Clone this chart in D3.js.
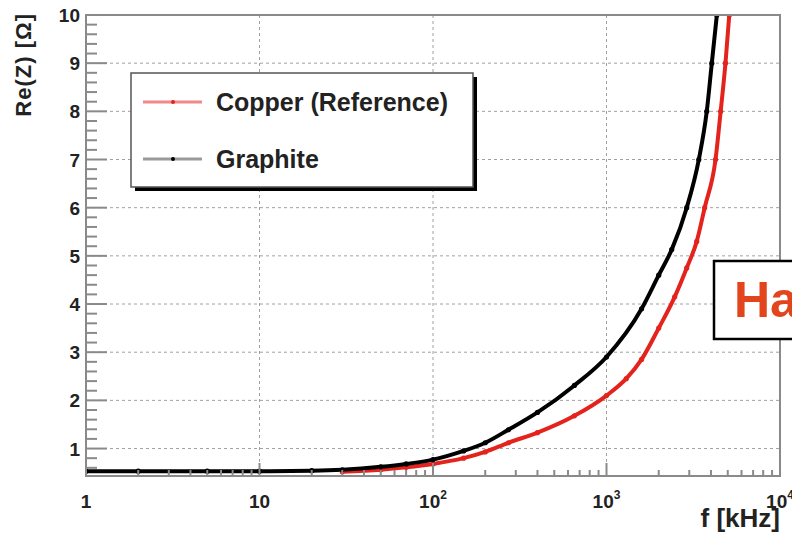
<!DOCTYPE html>
<html><head><meta charset="utf-8">
<script src="https://cdn.jsdelivr.net/npm/d3@7"></script>
<style>
body{margin:0;background:#fff;}
text{font-family:"Liberation Sans",Arial,Helvetica,sans-serif;font-weight:bold;}
</style></head>
<body><svg id="c" width="792" height="534"></svg>
<script>
// ---- data ----
const seriesNames = ["Copper (Reference)", "Graphite"];
const graphiteF = [1, 2, 5, 10, 20, 30, 50, 70, 100, 150, 200, 272, 400, 653, 1000, 1593, 2000, 2376, 2900, 3404, 3784, 4045, 4325];
const graphiteR = [0.53, 0.53, 0.53, 0.53, 0.54, 0.56, 0.62, 0.68, 0.77, 0.95, 1.12, 1.39, 1.75, 2.31, 2.9, 3.9, 4.6, 5.13, 6, 7, 8, 9, 10];
const copperF = [30, 50, 70, 100, 150, 200, 272, 400, 653, 1000, 1300, 1593, 2000, 2472, 2900, 3312, 3680, 4250, 4550, 4850, 5100];
const copperR = [0.52, 0.56, 0.61, 0.68, 0.8, 0.93, 1.12, 1.33, 1.68, 2.1, 2.45, 2.85, 3.5, 4.15, 4.75, 5.3, 6, 7, 8, 9, 10];
const xTickLabels = ["1", "10", "10^2", "10^3", "10^4"];
const xTickValues = [1, 10, 100, 1000, 10000];
const yTickValues = [1, 2, 3, 4, 5, 6, 7, 8, 9, 10];
const xTitle = "f [kHz]";
const yTitle = "Re(Z) [Ω]";
const badgeText = "Ha";

// ---- layout ----
const svg = d3.select("#c");
const L = 86, R = 780, T = 15, B = 476;
const x = d3.scaleLog().domain([1, 10000]).range([L, R]);
const y = d3.scaleLinear().domain([0.43, 10]).range([B, T]);
const red = "#e3231c";

// grid
const grid = svg.append("g");
grid.selectAll("line.gx").data(xTickValues.slice(1, -1)).join("line")
  .attr("x1", d => x(d)).attr("x2", d => x(d)).attr("y1", T).attr("y2", B)
  .attr("stroke", "#a0a0a0").attr("stroke-width", 1).attr("stroke-dasharray", "3,3");
grid.selectAll("line.gy").data(yTickValues.slice(0, -1)).join("line")
  .attr("x1", L).attr("x2", R).attr("y1", d => y(d)).attr("y2", d => y(d))
  .attr("stroke", "#a0a0a0").attr("stroke-width", 1).attr("stroke-dasharray", "3,3");

// curves
svg.append("clipPath").attr("id", "pc").append("rect")
  .attr("x", L).attr("y", T).attr("width", R - L).attr("height", B - T);
const plot = svg.append("g").attr("clip-path", "url(#pc)");
const line = d3.line().x(d => x(d[0])).y(d => y(d[1])).curve(d3.curveMonotoneX);
const cu = copperF.map((f, i) => [f, copperR[i]]);
const gr = graphiteF.map((f, i) => [f, graphiteR[i]]);
plot.append("path").datum(cu).attr("d", line).attr("fill", "none").attr("stroke", red).attr("stroke-width", 4);
plot.append("path").datum(gr).attr("d", line).attr("fill", "none").attr("stroke", "#000").attr("stroke-width", 4);
plot.selectAll("circle.cu").data(cu).join("circle").attr("cx", d => x(d[0])).attr("cy", d => y(d[1])).attr("r", 2.6).attr("fill", red);
plot.selectAll("circle.gr").data(gr).join("circle").attr("cx", d => x(d[0])).attr("cy", d => y(d[1])).attr("r", 2.6).attr("fill", "#000");

// frame
svg.append("rect").attr("x", L).attr("y", T).attr("width", R - L).attr("height", B - T)
  .attr("fill", "none").attr("stroke", "#8a8a8a").attr("stroke-width", 2);

// y ticks (inward)
const yMinor = d3.range(0.6, 10.0001, 0.2).map(v => +v.toFixed(1));
svg.append("g").selectAll("line").data(yMinor).join("line")
  .attr("x1", L).attr("x2", d => L + (Math.abs(d - Math.round(d)) < 1e-6 ? 21 : 11))
  .attr("y1", d => y(d)).attr("y2", d => y(d)).attr("stroke", "#8a8a8a").attr("stroke-width", 2);
svg.append("g").selectAll("text").data(yTickValues).join("text")
  .attr("x", 80).attr("y", d => y(d) + 7).attr("text-anchor", "end")
  .attr("font-size", 19).attr("fill", "#222").text(d => d);

// x ticks (inward)
const xMinor = [];
for (let e = 0; e < 4; e++) for (let k = 2; k <= 9; k++) xMinor.push(k * Math.pow(10, e));
svg.append("g").selectAll("line").data(xMinor).join("line")
  .attr("x1", d => x(d)).attr("x2", d => x(d)).attr("y1", B).attr("y2", B - 6)
  .attr("stroke", "#8a8a8a").attr("stroke-width", 2);
svg.append("g").selectAll("line").data(xTickValues).join("line")
  .attr("x1", d => x(d)).attr("x2", d => x(d)).attr("y1", B).attr("y2", B - 13)
  .attr("stroke", "#8a8a8a").attr("stroke-width", 2);
const xl = svg.append("g").selectAll("text").data(xTickValues).join("text")
  .attr("x", d => x(d)).attr("y", 508).attr("text-anchor", "middle")
  .attr("font-size", 19).attr("fill", "#222");
xl.each(function(d, i) {
  const s = xTickLabels[i].split("^");
  const t = d3.select(this);
  t.append("tspan").text(s[0]);
  if (s[1]) t.append("tspan").attr("dy", -9).attr("font-size", 12).text(s[1]);
});

// titles
svg.append("text").attr("x", 780).attr("y", 527).attr("text-anchor", "end")
  .attr("font-size", 26).attr("fill", "#222").text(xTitle);
svg.append("text").attr("transform", "translate(31,13) rotate(-90)").attr("text-anchor", "end")
  .attr("font-size", 22).attr("letter-spacing", 1).attr("fill", "#222").text(yTitle);

// legend
const lg = svg.append("g");
lg.append("rect").attr("x", 135).attr("y", 77).attr("width", 342).attr("height", 114).attr("fill", "#000");
lg.append("rect").attr("x", 131).attr("y", 73).attr("width", 342).attr("height", 114)
  .attr("fill", "#fff").attr("stroke", "#555").attr("stroke-width", 1.5);
const items = [[seriesNames[0], "#f08a8a", red, 102], [seriesNames[1], "#9a9a9a", "#000", 159]];
items.forEach(([name, lc, mc, yy]) => {
  lg.append("line").attr("x1", 143).attr("x2", 202).attr("y1", yy).attr("y2", yy).attr("stroke", lc).attr("stroke-width", 3);
  lg.append("circle").attr("cx", 173).attr("cy", yy).attr("r", 2).attr("fill", mc);
  lg.append("text").attr("x", 216).attr("y", yy + 9).attr("font-size", 25).attr("fill", "#222").text(name);
});

// badge
svg.append("rect").attr("x", 714).attr("y", 261).attr("width", 100).attr("height", 78)
  .attr("fill", "#fff").attr("stroke", "#000").attr("stroke-width", 2.5);
svg.append("text").attr("x", 734).attr("y", 317).attr("font-size", 50).attr("fill", "#e2441c").text(badgeText);
</script></body></html>
